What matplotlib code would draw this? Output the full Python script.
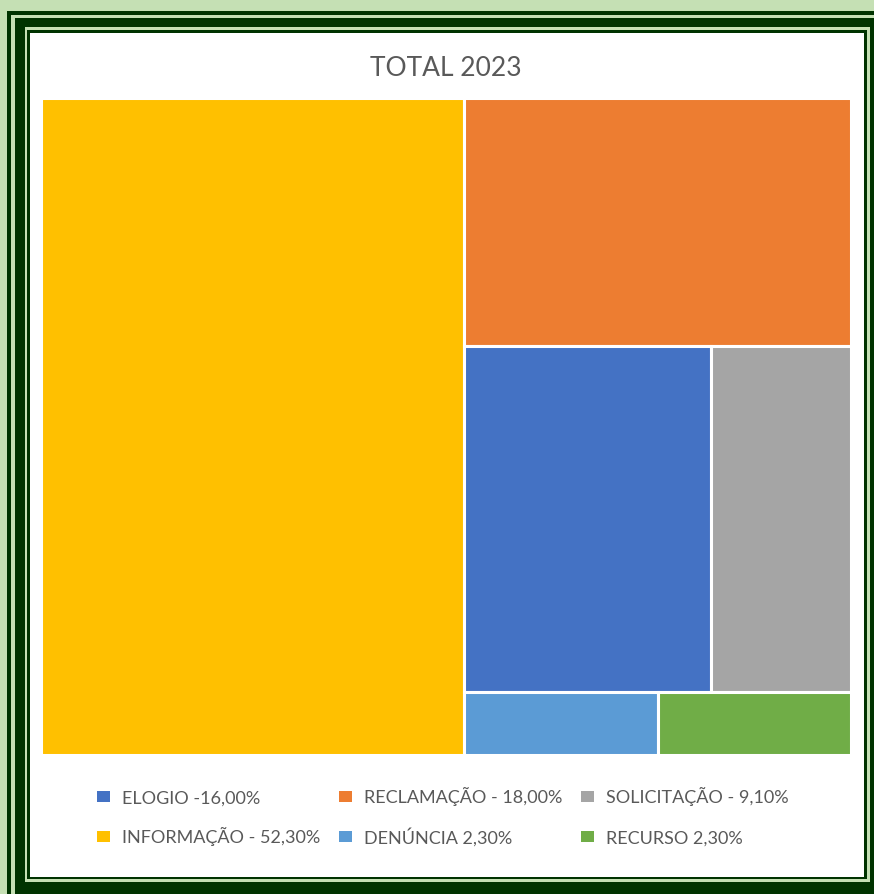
import matplotlib.pyplot as plt
from matplotlib.patches import Rectangle

# chart data
labels = ['ELOGIO', 'RECLAMAÇÃO', 'SOLICITAÇÃO', 'INFORMAÇÃO', 'DENÚNCIA', 'RECURSO']
values = [16.0, 18.0, 9.1, 52.3, 2.3, 2.3]
legend_labels = ['ELOGIO -16,00%', 'RECLAMAÇÃO - 18,00%', 'SOLICITAÇÃO - 9,10%',
                 'INFORMAÇÃO - 52,30%', 'DENÚNCIA 2,30%', 'RECURSO 2,30%']
colors = ['#4472C4', '#ED7D31', '#A5A5A5', '#FFC000', '#5B9BD5', '#70AD47']
title = 'TOTAL 2023'

W, H = 874, 895
LIGHT = '#C5E0B4'
DARK = '#003300'
GREY_TXT = '#595959'

plt.rcParams['font.family'] = ['Lato', 'DejaVu Sans']

fig = plt.figure(figsize=(W / 100, H / 100), dpi=100)
fig.patch.set_facecolor(LIGHT)

# frame around the chart (pixel coords, y down)
bg = fig.add_axes([0, 0, 1, 1])
bg.set_xlim(0, W)
bg.set_ylim(H, 0)
bg.axis('off')
frames = [
    ((7, 12, 900, 900), DARK),
    ((11, 16, 900, 900), LIGHT),
    ((15, 19, 900, 900), DARK),
    ((25, 28, 870, 883), LIGHT),
    ((27, 31, 867, 880), DARK),
    ((30, 34, 864, 878), 'white'),
]
for (l, t, r, b), c in frames:
    bg.add_patch(Rectangle((l, t), r - l, b - t, facecolor=c, edgecolor='none'))


def split(x, y, w, h, vals, horizontal):
    # slice a box proportionally to vals
    total = sum(vals)
    boxes = []
    pos = 0.0
    for v in vals:
        f = v / total
        if horizontal:
            boxes.append((x + pos * w, y, f * w, h))
        else:
            boxes.append((x, y + pos * h, w, f * h))
        pos += f
    return boxes


# treemap layout like Excel: biggest item as a column, the rest in rows
order = sorted(range(len(values)), key=lambda i: -values[i])
rows = [order[1:2], order[2:4], order[4:6]]
first, rest = split(0, 0, 1, 1, [values[order[0]], sum(values[i] for i in order[1:])], True)
rects = {order[0]: first}
row_boxes = split(*rest, [sum(values[i] for i in r) for r in rows], False)
for r, box in zip(rows, row_boxes):
    for i, b in zip(r, split(*box, [values[i] for i in r], True)):
        rects[i] = b

x0, x1, y0, y1 = 40.5, 851, 98.5, 756
ax = fig.add_axes([x0 / W, 1 - y1 / H, (x1 - x0) / W, (y1 - y0) / H])
ax.set_xlim(0, 1)
ax.set_ylim(1, 0)
ax.axis('off')
for i, (x, y, w, h) in rects.items():
    ax.add_patch(Rectangle((x, y), w, h, facecolor=colors[i], edgecolor='white', linewidth=2.2))

bg.text(446, 68, title, ha='center', va='center', fontsize=19, color=GREY_TXT)

# legend, three per row
col_x = [97, 339, 581]
row_y = [797, 837]
for k, (lab, c) in enumerate(zip(legend_labels, colors)):
    mx = col_x[k % 3]
    my = row_y[k // 3]
    bg.add_patch(Rectangle((mx, my - 5.5), 13, 11, facecolor=c, edgecolor='none'))
    bg.text(mx + 25, my + 6.5, lab, ha='left', va='baseline', fontsize=13, color=GREY_TXT)

fig.savefig('out.png', dpi=100, facecolor=fig.get_facecolor())
